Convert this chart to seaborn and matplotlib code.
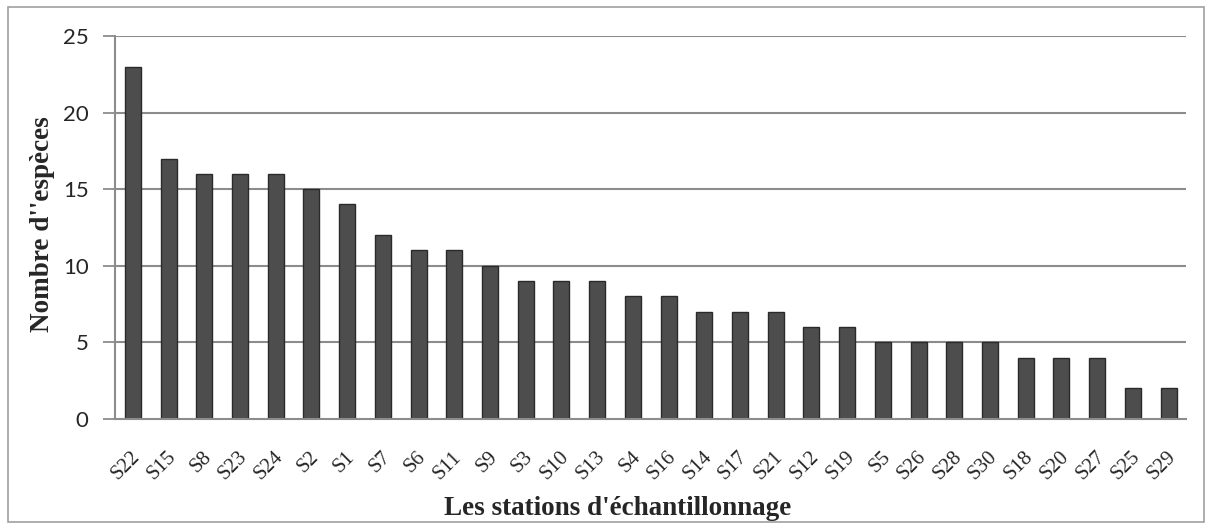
import matplotlib
matplotlib.use("Agg")
import matplotlib.pyplot as plt
import seaborn as sns
import pandas as pd
from matplotlib.patches import Rectangle
from matplotlib.transforms import ScaledTranslation

stations = ["S22", "S15", "S8", "S23", "S24", "S2", "S1", "S7", "S6", "S11",
            "S9", "S3", "S10", "S13", "S4", "S16", "S14", "S17", "S21", "S12",
            "S19", "S5", "S26", "S28", "S30", "S18", "S20", "S27", "S25", "S29"]
especes = [23, 17, 16, 16, 16, 15, 14, 12, 11, 11,
           10, 9, 9, 9, 8, 8, 7, 7, 7, 6,
           6, 5, 5, 5, 5, 4, 4, 4, 2, 2]
yticks = [0, 5, 10, 15, 20, 25]

df = pd.DataFrame({"station": stations, "n": especes})

sns.set_theme(style="white")
plt.rcParams['font.family'] = ['DejaVu Sans']

fig = plt.figure(figsize=(12.12, 5.29), dpi=100)
ax = fig.add_axes([0.0949, 0.208, 0.884, 0.724])

for y in yticks[1:]:
    ax.axhline(y, color="#8c8c8c", lw=1.5, zorder=0)

sns.barplot(data=df, x="station", y="n", ax=ax, color="#4d4d4d",
            width=0.45, edgecolor="#2a2a2a", linewidth=1.0, saturation=1, zorder=2)

ax.set_ylim(0, 25)
ax.set_xlim(-0.5, len(stations) - 0.5)
ax.set_yticks(yticks)
ax.set_yticklabels([str(v) for v in yticks], fontsize=16, family=["Lato", "DejaVu Sans"])
ax.tick_params(axis="y", length=9, width=1.3, color="#8c8c8c", pad=10, left=True)
ax.tick_params(axis="x", length=0, pad=14)
ax.set_xticks(range(len(stations)))
ax.set_xticklabels(stations, rotation=45, ha="right", rotation_mode="anchor",
                   fontsize=15, family=["Liberation Serif", "DejaVu Serif"])
offset = ScaledTranslation(-2 / 100, -9 / 100, fig.dpi_scale_trans)
for lab in ax.get_xticklabels():
    lab.set_transform(lab.get_transform() + offset)

for s in ["top", "right"]:
    ax.spines[s].set_visible(False)
for s in ["left", "bottom"]:
    ax.spines[s].set_color("#8c8c8c")
    ax.spines[s].set_linewidth(1.5)

ax.set_xlabel("Les stations d'échantillonnage", fontsize=19.5, fontweight="bold",
              family=["Liberation Serif", "DejaVu Serif"])
ax.set_ylabel("Nombre d''espèces", fontsize=19.5, fontweight="bold",
              family=["Liberation Serif", "DejaVu Serif"])
ax.xaxis.set_label_coords(0.469, -0.20)
ax.yaxis.set_label_coords(-0.056, 0.51)

fig.patches.append(Rectangle((8 / 1212, 7 / 529), 1196 / 1212, 515 / 529,
                             transform=fig.transFigure, fill=False,
                             edgecolor="#a0a0a0", lw=1.2))

fig.savefig("out.png", dpi=100, facecolor="white")
